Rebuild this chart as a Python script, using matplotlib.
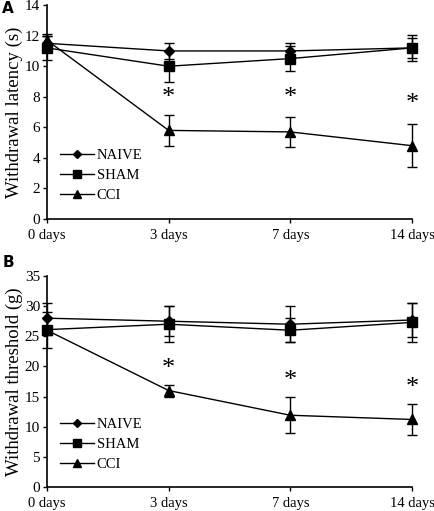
import matplotlib
matplotlib.use('Agg')
import matplotlib.pyplot as plt
from matplotlib.lines import Line2D
import numpy as np

plt.rcParams['font.family'] = ['Liberation Serif', 'DejaVu Serif']

days = ['0 days', '3 days', '7 days', '14 days']
groups = ['NAIVE', 'SHAM', 'CCI']
markers = ['D', 's', '^']
msizes = [5, 7, 7]

# panel A: withdrawal latency (s)
lat_mean = {'NAIVE': [11.5, 11.0, 11.0, 11.2],
            'SHAM': [11.2, 10.0, 10.5, 11.2],
            'CCI': [11.7, 5.8, 5.7, 4.8]}
lat_err = {'NAIVE': [0.6, 0.5, 0.5, 0.65],
           'SHAM': [0.8, 1.0, 0.8, 0.85],
           'CCI': [0.3, 1.0, 1.0, 1.4]}
lat_star = [7.9, 7.9, 7.5]

# panel B: withdrawal threshold (g)
thr_mean = {'NAIVE': [28.0, 27.5, 27.0, 27.7],
            'SHAM': [26.1, 27.0, 26.0, 27.3],
            'CCI': [26.0, 16.0, 11.9, 11.2]}
thr_err = {'NAIVE': [2.5, 2.5, 3.0, 2.8],
           'SHAM': [3.0, 3.0, 2.0, 3.2],
           'CCI': [0.5, 1.0, 3.0, 2.6]}
thr_star = [19.6, 17.5, 16.5]

fig = plt.figure(figsize=(4.35, 5.11), dpi=100)
axA = fig.add_axes([0.108, 0.5714, 0.839, 0.4186])
axB = fig.add_axes([0.108, 0.047, 0.839, 0.4129])


def panel(ax, means, errs, stars, ymax, ystep, ylabel, legy):
    x = np.arange(len(days))
    handles = []
    for g, m, ms in zip(groups, markers, msizes):
        ax.errorbar(x, means[g], yerr=errs[g], color='black', marker=m,
                    markersize=ms, linewidth=1, elinewidth=1, capsize=3.6,
                    capthick=1, clip_on=False, zorder=3)
        handles.append(Line2D([], [], color='black', marker=m, linewidth=1,
                              markersize=ms * 0.75, label=g))
    for xi, s in zip(x[1:], stars):
        ax.text(xi, s, '*', ha='center', va='center', fontsize=19)
    ax.set_xlim(0, 3)
    ax.set_ylim(0, ymax)
    ax.set_yticks(np.arange(0, ymax + 0.1, ystep))
    ax.set_xticks(x)
    ax.set_xticklabels(days)
    ax.spines['top'].set_visible(False)
    ax.spines['right'].set_visible(False)
    ax.spines['left'].set_linewidth(1.2)
    ax.spines['bottom'].set_linewidth(1.2)
    ax.tick_params(axis='y', labelsize=11, direction='out', length=3, width=1, pad=2)
    ax.tick_params(axis='x', labelsize=10.5, direction='out', length=3, width=1, pad=4)
    ax.set_ylabel(ylabel, fontsize=13.5, labelpad=1)
    ax.legend(handles=handles, loc='lower left', bbox_to_anchor=(0.0, legy),
              frameon=False, fontsize=10.5, handlelength=2.3,
              handletextpad=0.2, labelspacing=0.45)


panel(axA, lat_mean, lat_err, lat_star, 14, 2, 'Withdrawal latency (s)', 0.02)
panel(axB, thr_mean, thr_err, thr_star, 35, 5, 'Withdrawal threshold (g)', 0.015)

fig.text(0.005, 0.975, 'A', fontsize=11, fontweight='bold', family='DejaVu Sans')
fig.text(0.005, 0.478, 'B', fontsize=11, fontweight='bold', family='DejaVu Sans')

fig.savefig('out.png', dpi=100)
